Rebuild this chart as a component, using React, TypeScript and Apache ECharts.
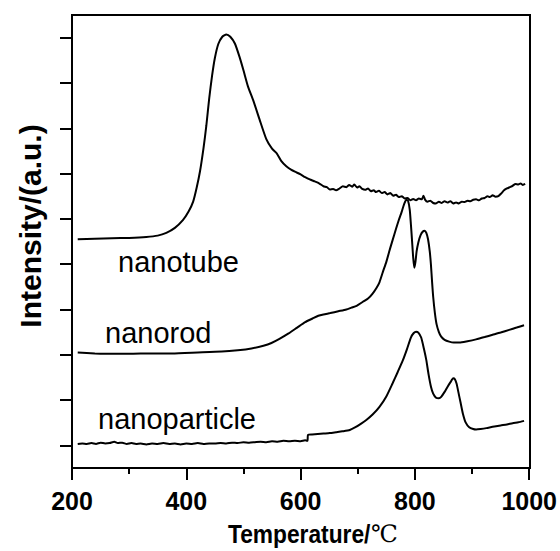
import React, { useEffect, useRef } from "react";
import * as echarts from "echarts";

// Temperature axis ticks (°C)
const xTicks = [200, 400, 600, 800, 1000];
// Intensity axis range and tick positions (arbitrary units, offset traces)
const yRange = [0, 10];
const yTicks = [0.5, 1.5, 2.5, 3.5, 4.5, 5.5, 6.5, 7.5, 8.5, 9.5];

// [temperature, intensity] for each sample
const nanotube: [number, number][] = [
  [210, 5.05], [240, 5.06], [270, 5.07], [300, 5.08], [330, 5.1], [350, 5.13], [365, 5.19], [380, 5.3],
  [394, 5.47], [404, 5.66], [412, 5.88], [418, 6.18], [424, 6.55], [430, 7.05], [435, 7.55], [440, 8.15],
  [445, 8.65], [450, 9.05], [456, 9.36], [463, 9.52], [470, 9.57], [477, 9.52], [485, 9.37], [493, 9.08],
  [500, 8.78], [508, 8.42], [517, 8.12], [528, 7.7], [540, 7.26], [550, 7.05], [558, 6.95], [566, 6.78],
  [575, 6.66], [584, 6.58], [592, 6.53], [600, 6.48], [608, 6.42], [616, 6.37], [624, 6.33], [633, 6.28],
  [640, 6.22], [646, 6.2], [651, 6.15], [657, 6.16], [662, 6.13], [668, 6.17], [674, 6.22], [680, 6.2],
  [685, 6.25], [690, 6.21], [694, 6.26], [699, 6.19], [703, 6.22], [708, 6.16], [713, 6.14], [718, 6.17],
  [723, 6.11], [728, 6.13], [732, 6.09], [737, 6.12], [742, 6.07], [747, 6.09], [752, 6.04], [757, 6.07],
  [762, 6.01], [767, 6.03], [772, 5.98], [777, 6.0], [782, 5.95], [787, 5.96], [792, 5.91], [797, 5.94],
  [802, 5.91], [807, 5.95], [812, 5.93], [815, 6.01], [818, 5.92], [822, 5.88], [827, 5.9], [832, 5.85],
  [837, 5.84], [842, 5.88], [847, 5.85], [852, 5.89], [857, 5.86], [862, 5.89], [867, 5.84], [872, 5.86],
  [877, 5.84], [882, 5.88], [887, 5.87], [892, 5.9], [897, 5.89], [902, 5.92], [907, 5.93], [912, 5.91],
  [917, 5.95], [922, 5.96], [927, 6.0], [931, 5.98], [936, 6.02], [941, 5.99], [946, 6.0], [951, 6.06],
  [956, 6.13], [961, 6.17], [966, 6.2], [971, 6.23], [976, 6.27], [981, 6.26], [985, 6.28], [989, 6.25],
  [993, 6.27],
];

const nanorod: [number, number][] = [
  [210, 2.55], [240, 2.53], [270, 2.52], [300, 2.52], [340, 2.53], [375, 2.53], [420, 2.55], [462, 2.57],
  [490, 2.6], [514, 2.64], [535, 2.7], [549, 2.76], [563, 2.85], [579, 2.97], [594, 3.1], [608, 3.22],
  [621, 3.3], [631, 3.36], [640, 3.39], [652, 3.42], [666, 3.46], [680, 3.5], [689, 3.54], [698, 3.58],
  [709, 3.67], [718, 3.74], [726, 3.85], [733, 3.98], [738, 4.1], [744, 4.33], [750, 4.55], [756, 4.82],
  [761, 5.03], [767, 5.28], [772, 5.48], [777, 5.66], [781, 5.82], [785, 5.92], [788, 5.9], [791, 5.7],
  [793, 5.38], [795, 5.02], [797, 4.65], [799, 4.42], [801, 4.55], [803, 4.78], [806, 4.98], [810, 5.14],
  [814, 5.22], [817, 5.24], [820, 5.19], [823, 5.05], [826, 4.78], [828, 4.5], [830, 4.12], [832, 3.78],
  [835, 3.42], [838, 3.17], [842, 3.0], [846, 2.9], [852, 2.83], [860, 2.79], [868, 2.77], [878, 2.77],
  [892, 2.8], [907, 2.84], [922, 2.89], [936, 2.94], [950, 2.99], [965, 3.05], [978, 3.1], [991, 3.15],
];

const nanoparticle: [number, number][] = [
  [210, 0.53], [218, 0.54], [226, 0.53], [234, 0.55], [242, 0.53], [250, 0.56], [258, 0.54], [266, 0.55],
  [274, 0.58], [280, 0.55], [288, 0.56], [296, 0.53], [304, 0.55], [312, 0.53], [320, 0.54], [330, 0.52],
  [340, 0.54], [350, 0.53], [360, 0.55], [370, 0.53], [380, 0.54], [390, 0.52], [400, 0.54], [410, 0.53],
  [420, 0.55], [430, 0.53], [440, 0.54], [450, 0.54], [460, 0.55], [470, 0.54], [480, 0.56], [490, 0.55],
  [500, 0.57], [510, 0.56], [520, 0.57], [530, 0.58], [540, 0.57], [550, 0.59], [560, 0.58], [570, 0.6],
  [580, 0.59], [590, 0.6], [600, 0.59], [608, 0.61], [612, 0.6], [613, 0.73], [620, 0.74], [630, 0.75],
  [640, 0.76], [651, 0.77], [662, 0.79], [673, 0.81], [686, 0.84], [696, 0.9], [706, 0.98], [715, 1.06],
  [726, 1.18], [738, 1.35], [750, 1.58], [761, 1.87], [770, 2.12], [779, 2.38], [786, 2.62], [793, 2.88],
  [798, 2.98], [802, 3.01], [806, 2.99], [811, 2.88], [816, 2.62], [820, 2.38], [824, 2.06], [828, 1.8],
  [832, 1.64], [837, 1.55], [842, 1.54], [846, 1.57], [852, 1.68], [857, 1.79], [862, 1.89], [867, 1.98],
  [870, 1.96], [873, 1.86], [876, 1.68], [880, 1.44], [884, 1.2], [889, 1.0], [895, 0.9], [902, 0.86],
  [907, 0.85], [915, 0.86], [925, 0.88], [936, 0.91], [950, 0.94], [961, 0.96], [971, 0.99], [981, 1.01],
  [991, 1.04],
];

const sampleNames = ["nanotube", "nanorod", "nanoparticle"];

const FONT = "'Liberation Sans', Arial, sans-serif";
const AXIS_LINE = { show: true, onZero: false, lineStyle: { color: "#000", width: 2 } };

// plot area, in pixels
const GRID = { left: 72, right: 30, top: 15, bottom: 83 };
const W = 560;
const H = 551;
const PX0 = GRID.left;
const PX1 = W - GRID.right;
const PY0 = GRID.top;
const PY1 = H - GRID.bottom;

export default function App() {
  const ref = useRef<HTMLDivElement>(null);

  useEffect(() => {
    if (!ref.current) return;
    const chart = echarts.init(ref.current, null, { renderer: "svg" });

    const lineSeries = (name: string, data: [number, number][]) => ({
      name,
      type: "line",
      data,
      showSymbol: false,
      smooth: 0.2,
      lineStyle: { color: "#000", width: 2 },
      z: 3,
    });

    chart.setOption({
      animation: false,
      backgroundColor: "#fff",
      grid: GRID,
      xAxis: {
        type: "value",
        min: xTicks[0],
        max: xTicks[xTicks.length - 1],
        interval: 200,
        axisLine: AXIS_LINE,
        axisTick: { show: true, inside: false, length: 12, lineStyle: { color: "#000", width: 2 } },
        minorTick: { show: true, splitNumber: 2, length: 6, lineStyle: { color: "#000", width: 2 } },
        splitLine: { show: false },
        axisLabel: {
          color: "#000",
          fontFamily: FONT,
          fontWeight: "bold",
          fontSize: 25,
          margin: 20,
          showMinLabel: true,
          showMaxLabel: true,
          formatter: (v: number) => String(v),
        },
      },
      yAxis: {
        type: "value",
        min: yRange[0],
        max: yRange[1],
        axisLine: AXIS_LINE,
        axisTick: {
          show: true,
          inside: false,
          length: 12,
          customValues: yTicks,
          lineStyle: { color: "#000", width: 2 },
        },
        splitLine: { show: false },
        axisLabel: { show: false },
      },
      graphic: [
        {
          // top edge of the frame, drawn as a filled bar
          type: "rect",
          shape: { x: PX0 - 1, y: PY0 - 1, width: PX1 - PX0 + 2, height: 2 },
          style: { fill: "#000" },
          silent: true,
        },
        {
          // right edge of the frame
          type: "rect",
          shape: { x: PX1 - 1, y: PY0 - 1, width: 2, height: PY1 - PY0 + 2 },
          style: { fill: "#000" },
          silent: true,
        },
        {
          type: "text",
          left: 118,
          top: 247,
          style: { text: sampleNames[0], fill: "#000", font: `29px ${FONT}` },
        },
        {
          type: "text",
          left: 105,
          top: 318,
          style: { text: sampleNames[1], fill: "#000", font: `29px ${FONT}` },
        },
        {
          type: "text",
          left: 98,
          top: 404,
          style: { text: sampleNames[2], fill: "#000", font: `29px ${FONT}` },
        },
        {
          type: "text",
          x: 228,
          y: 534,
          scaleX: 0.91,
          style: {
            text: "Temperature/",
            align: "left",
            verticalAlign: "middle",
            fill: "#000",
            font: `bold 25px ${FONT}`,
          },
        },
        {
          type: "text",
          x: 371,
          y: 534,
          style: {
            text: "℃",
            align: "left",
            verticalAlign: "middle",
            fill: "#000",
            font: `24px 'DejaVu Serif', serif`,
          },
        },
        {
          type: "text",
          x: 30,
          y: 226,
          rotation: Math.PI / 2,
          style: {
            text: "Intensity/(a.u.)",
            align: "center",
            verticalAlign: "middle",
            fill: "#000",
            font: `bold 30px ${FONT}`,
          },
        },
      ],
      series: [
        lineSeries(sampleNames[0], nanotube),
        lineSeries(sampleNames[1], nanorod),
        lineSeries(sampleNames[2], nanoparticle),
      ],
    });

    return () => chart.dispose();
  }, []);

  return (
    <div
      ref={ref}
      style={{ position: "absolute", left: 0, top: 0, width: W, height: H }}
    />
  );
}
